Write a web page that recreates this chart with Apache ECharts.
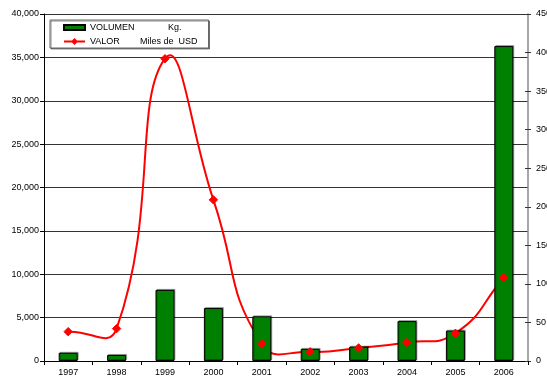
<!DOCTYPE html>
<html>
<head>
<meta charset="utf-8">
<script src="https://cdn.jsdelivr.net/npm/echarts@6/dist/echarts.min.js"></script>
<style>
  html, body { margin: 0; padding: 0; background: #fff; }
  #chart { width: 547px; height: 377px; }
</style>
</head>
<body>
<div id="chart"></div>
<script>
// Years on the category axis
const years = ['1997', '1998', '1999', '2000', '2001', '2002', '2003', '2004', '2005', '2006'];
// Exported volume, kg (left axis)
const volumen = [950, 700, 8200, 6100, 5150, 1400, 1650, 4600, 3500, 36300];
// Export value, thousands of USD (right axis)
const valor = [38, 42, 392, 209, 22, 12, 17, 24, 36, 108];

const font = 'Liberation Sans, Arial, sans-serif';
const RED = '#ff0000';
const SMOOTH = 0.5;

const chart = echarts.init(document.getElementById('chart'));

// Smoothed value line: cubic Bezier segments whose control points follow the
// neighbouring points (no clamping, so the curve may overshoot like a spreadsheet curve).
function renderValor(params, api) {
  const n = valor.length;
  const i = params.dataIndex;
  const idx = k => Math.max(0, Math.min(n - 1, k));
  const P = k => api.coord([idx(k), valor[idx(k)]]);
  function controls(k) {
    const cur = P(k), prev = P(k - 1), next = P(k + 1);
    const vx = next[0] - prev[0], vy = next[1] - prev[1];
    const lp = Math.hypot(cur[0] - prev[0], cur[1] - prev[1]);
    const ln = Math.hypot(next[0] - cur[0], next[1] - cur[1]);
    const r = (lp + ln) > 0 ? ln / (lp + ln) : 0.5;
    return {
      out: [cur[0] + vx * SMOOTH * r, cur[1] + vy * SMOOTH * r],
      inn: [cur[0] - vx * SMOOTH * (1 - r), cur[1] - vy * SMOOTH * (1 - r)]
    };
  }
  const children = [];
  const p = P(i);
  if (i < n - 1) {
    const q = P(i + 1);
    const c1 = controls(i).out, c2 = controls(i + 1).inn;
    children.push({
      type: 'bezierCurve',
      shape: { x1: p[0], y1: p[1], x2: q[0], y2: q[1], cpx1: c1[0], cpy1: c1[1], cpx2: c2[0], cpy2: c2[1] },
      style: { stroke: RED, lineWidth: 2, fill: null }
    });
  }
  const r = 4.2;
  children.push({
    type: 'polygon',
    z2: 10,
    shape: { points: [[p[0], p[1] - r], [p[0] + r, p[1]], [p[0], p[1] + r], [p[0] - r, p[1]]] },
    style: { fill: RED, stroke: RED, lineWidth: 1 }
  });
  return { type: 'group', children: children };
}

chart.setOption({
  animation: false,
  textStyle: { fontFamily: font },
  grid: { left: 44, right: 19, top: 14, bottom: 16, outerBoundsMode: 'none', containLabel: false },
  legend: {
    orient: 'vertical',
    left: 50,
    top: 20,
    padding: [3, 11, 2, 13],
    itemGap: 5,
    itemWidth: 21,
    itemHeight: 8,
    backgroundColor: '#fff',
    borderColor: '#666',
    borderWidth: 1,
    shadowColor: 'rgba(0,0,0,0.45)',
    shadowOffsetX: 1,
    shadowOffsetY: 1,
    shadowBlur: 0,
    textStyle: {
      fontFamily: font,
      fontSize: 9,
      color: '#000',
      rich: {
        a: { width: 50, fontSize: 9, fontFamily: font },
        k: { fontSize: 9, fontFamily: font, padding: [0, 0, 0, 28] },
        b: { fontSize: 9, fontFamily: font }
      }
    },
    formatter: function (name) {
      return name === 'VOLUMEN' ? '{a|VOLUMEN}{k|Kg.}' : '{a|VALOR}{b|Miles de  USD}';
    },
    data: [
      { name: 'VOLUMEN', icon: 'path://M0,1.5 L21,1.5 L21,6.5 L0,6.5 Z' },
      { name: 'VALOR', icon: 'path://M0,3.1 L21,3.1 L21,4.9 L0,4.9 Z M10.5,0.5 L14,4 L10.5,7.5 L7,4 Z' }
    ]
  },
  xAxis: {
    type: 'category',
    data: years,
    boundaryGap: true,
    axisLine: { lineStyle: { color: '#000', width: 1 } },
    axisTick: { show: true, interval: 0, length: 4, lineStyle: { color: '#000' } },
    axisLabel: { fontSize: 9, color: '#000', margin: 7, fontFamily: font }
  },
  yAxis: [
    {
      type: 'value',
      min: 0,
      max: 40000,
      interval: 5000,
      position: 'left',
      axisLine: { show: true, lineStyle: { color: '#000', width: 1 } },
      axisTick: { show: true, length: 4, lineStyle: { color: '#000' } },
      axisLabel: {
        fontSize: 9, color: '#000', margin: 5, fontFamily: font,
        formatter: v => v.toLocaleString('en-US')
      },
      splitLine: { show: true, lineStyle: { color: '#333', width: 1 } }
    },
    {
      type: 'value',
      min: 0,
      max: 450,
      interval: 50,
      position: 'right',
      axisLine: { show: true, lineStyle: { color: '#888', width: 1.5 } },
      axisTick: { show: true, length: 3, lineStyle: { color: '#333' } },
      axisLabel: { fontSize: 9, color: '#000', margin: 8, fontFamily: font },
      splitLine: { show: false }
    },
    {
      // inner half of the crossing ticks on the right axis
      type: 'value',
      min: 0,
      max: 450,
      interval: 50,
      position: 'right',
      axisLine: { show: false },
      axisTick: { show: true, inside: true, length: 3, lineStyle: { color: '#333' } },
      axisLabel: { show: false },
      splitLine: { show: false }
    }
  ],
  series: [
    {
      name: 'VOLUMEN',
      type: 'bar',
      yAxisIndex: 0,
      data: volumen,
      barWidth: 19,
      itemStyle: {
        color: '#008000',
        borderColor: '#000',
        borderWidth: 1,
        shadowColor: 'rgba(0,0,0,0.3)',
        shadowOffsetX: 1,
        shadowOffsetY: -1
      }
    },
    {
      name: 'VALOR',
      type: 'custom',
      yAxisIndex: 1,
      data: valor.map((v, i) => [i, v]),
      encode: { x: 0, y: 1 },
      itemStyle: { color: RED },
      renderItem: renderValor
    }
  ]
});
</script>
</body>
</html>
